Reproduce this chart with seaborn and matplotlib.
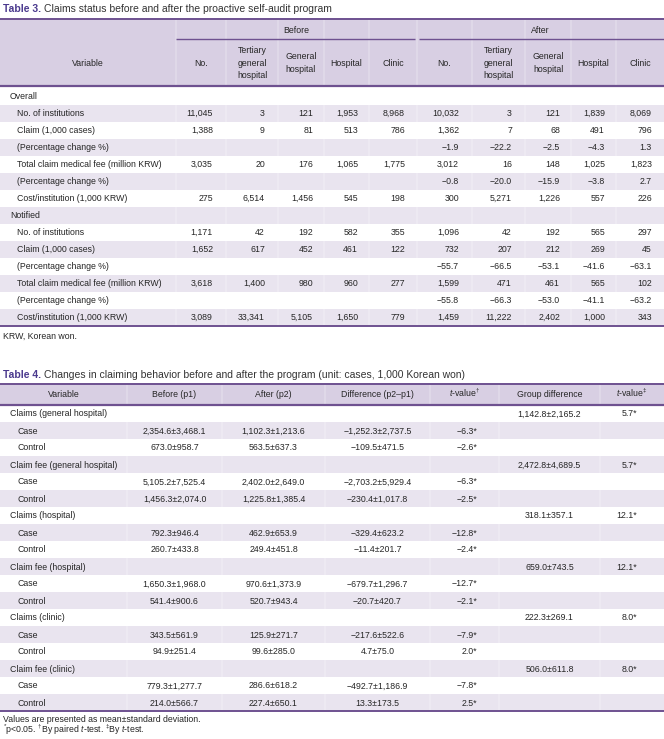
import seaborn as sns
import matplotlib.pyplot as plt

# ---- Table 3 data ----
t3_title = "Claims status before and after the proactive self-audit program"
t3_groups = ["Before", "After"]
t3_cols = ["No.", "Tertiary\ngeneral\nhospital", "General\nhospital", "Hospital", "Clinic"]
t3_labels = [
    "Overall",
    "No. of institutions",
    "Claim (1,000 cases)",
    "(Percentage change %)",
    "Total claim medical fee (million KRW)",
    "(Percentage change %)",
    "Cost/institution (1,000 KRW)",
    "Notified",
    "No. of institutions",
    "Claim (1,000 cases)",
    "(Percentage change %)",
    "Total claim medical fee (million KRW)",
    "(Percentage change %)",
    "Cost/institution (1,000 KRW)",
]
t3_is_heading = [True, False, False, False, False, False, False,
                 True, False, False, False, False, False, False]
t3_before = [
    [],
    ["11,045", "3", "121", "1,953", "8,968"],
    ["1,388", "9", "81", "513", "786"],
    [],
    ["3,035", "20", "176", "1,065", "1,775"],
    [],
    ["275", "6,514", "1,456", "545", "198"],
    [],
    ["1,171", "42", "192", "582", "355"],
    ["1,652", "617", "452", "461", "122"],
    [],
    ["3,618", "1,400", "980", "960", "277"],
    [],
    ["3,089", "33,341", "5,105", "1,650", "779"],
]
t3_after = [
    [],
    ["10,032", "3", "121", "1,839", "8,069"],
    ["1,362", "7", "68", "491", "796"],
    ["\u22121.9", "\u221222.2", "\u22122.5", "\u22124.3", "1.3"],
    ["3,012", "16", "148", "1,025", "1,823"],
    ["\u22120.8", "\u221220.0", "\u221215.9", "\u22123.8", "2.7"],
    ["300", "5,271", "1,226", "557", "226"],
    [],
    ["1,096", "42", "192", "565", "297"],
    ["732", "207", "212", "269", "45"],
    ["\u221255.7", "\u221266.5", "\u221253.1", "\u221241.6", "\u221263.1"],
    ["1,599", "471", "461", "565", "102"],
    ["\u221255.8", "\u221266.3", "\u221253.0", "\u221241.1", "\u221263.2"],
    ["1,459", "11,222", "2,402", "1,000", "343"],
]
t3_note = "KRW, Korean won."

# ---- Table 4 data ----
t4_title = "Changes in claiming behavior before and after the program (unit: cases, 1,000 Korean won)"
t4_cols = ["Variable", "Before (p1)", "After (p2)", "Difference (p2\u2013p1)",
           "$t$-value$^{\u2020}$", "Group difference", "$t$-value$^{\u2021}$"]
t4_labels = [
    "Claims (general hospital)", "Case", "Control",
    "Claim fee (general hospital)", "Case", "Control",
    "Claims (hospital)", "Case", "Control",
    "Claim fee (hospital)", "Case", "Control",
    "Claims (clinic)", "Case", "Control",
    "Claim fee (clinic)", "Case", "Control",
]
t4_before = ["", "2,354.6\u00b13,468.1", "673.0\u00b1958.7",
             "", "5,105.2\u00b17,525.4", "1,456.3\u00b12,074.0",
             "", "792.3\u00b1946.4", "260.7\u00b1433.8",
             "", "1,650.3\u00b11,968.0", "541.4\u00b1900.6",
             "", "343.5\u00b1561.9", "94.9\u00b1251.4",
             "", "779.3\u00b11,277.7", "214.0\u00b1566.7"]
t4_after = ["", "1,102.3\u00b11,213.6", "563.5\u00b1637.3",
            "", "2,402.0\u00b12,649.0", "1,225.8\u00b11,385.4",
            "", "462.9\u00b1653.9", "249.4\u00b1451.8",
            "", "970.6\u00b11,373.9", "520.7\u00b1943.4",
            "", "125.9\u00b1271.7", "99.6\u00b1285.0",
            "", "286.6\u00b1618.2", "227.4\u00b1650.1"]
t4_diff = ["", "\u22121,252.3\u00b12,737.5", "\u2212109.5\u00b1471.5",
           "", "\u22122,703.2\u00b15,929.4", "\u2212230.4\u00b11,017.8",
           "", "\u2212329.4\u00b1623.2", "\u221211.4\u00b1201.7",
           "", "\u2212679.7\u00b11,296.7", "\u221220.7\u00b1420.7",
           "", "\u2212217.6\u00b1522.6", "4.7\u00b175.0",
           "", "\u2212492.7\u00b11,186.9", "13.3\u00b1173.5"]
t4_tpaired = ["", "\u22126.3*", "\u22122.6*", "", "\u22126.3*", "\u22122.5*",
              "", "\u221212.8*", "\u22122.4*", "", "\u221212.7*", "\u22122.1*",
              "", "\u22127.9*", "2.0*", "", "\u22127.8*", "2.5*"]
t4_groupdiff = ["1,142.8\u00b12,165.2", "", "", "2,472.8\u00b14,689.5", "", "",
                "318.1\u00b1357.1", "", "", "659.0\u00b1743.5", "", "",
                "222.3\u00b1269.1", "", "", "506.0\u00b1611.8", "", ""]
t4_tgroup = ["5.7*", "", "", "5.7*", "", "", "12.1*", "", "",
             "12.1*", "", "", "8.0*", "", "", "8.0*", "", ""]
t4_notes = ["Values are presented as mean\u00b1standard deviation.",
            "$^{*}$p<0.05. $^{\u2020}$By paired $t$-test. $^{\u2021}$By $t$-test."]

# ---- style ----
sns.set_theme(style="white")
plt.rcParams["font.family"] = ["Liberation Sans", "DejaVu Sans"]
plt.rcParams["mathtext.fontset"] = "custom"
plt.rcParams["mathtext.rm"] = "Liberation Sans"
plt.rcParams["mathtext.it"] = "Liberation Sans:italic"

txt = "#262626"
purple = "#4b3a8e"
line_c = "#6e5190"
head_bg = "#d8cfe3"
band_bg = "#e9e4ef"
fs = 6.3
title_fs = 7.45
rh = 17.0
base_off = 3.0  # baseline sits this far below the visual row centre

fig = plt.figure(figsize=(6.64, 7.39), dpi=100)
ax = fig.add_axes([0, 0, 1, 1])
ax.set_xlim(0, 664)
ax.set_ylim(739, 0)
ax.axis("off")


def cell(x, y, s, ha="left"):
    ax.text(x, y + base_off, s, fontsize=fs, color=txt, ha=ha, va="baseline")


def multiline(x, yc, s, step=12.5):
    parts = s.split("\n")
    for k, p in enumerate(parts):
        cell(x, yc + (k - (len(parts) - 1) / 2) * step, p, ha="center")


def title(y, num, s):
    t = ax.text(3, y + 3.5, f"Table {num}.", fontsize=title_fs, fontweight="bold",
                color=purple, va="baseline")
    fig.canvas.draw()
    inv = ax.transData.inverted()
    x2 = inv.transform((t.get_window_extent().x1, 0))[0] + 2.5
    ax.text(x2, y + 3.5, s, fontsize=title_fs, color="#333333", va="baseline")


def hline(y, x0=0, x1=664, lw=1.3):
    ax.plot([x0, x1], [y, y], color=line_c, lw=lw, solid_capstyle="butt")


def vseps(bounds, y0, y1):
    for b in bounds:
        ax.plot([b, b], [y0, y1], color="white", lw=0.35, alpha=0.8)


# ================= Table 3 =================
title(9, 3, t3_title)
t3_top, t3_head_bot = 19, 86
t3_bounds = [0, 176, 226, 278, 324, 369, 417, 472, 525, 571, 616, 664]
t3_pad = [13, 13, 11, 11, 12]

ax.fill_between([0, 664], t3_top, t3_head_bot, color=head_bg, lw=0)
row0 = t3_head_bot + 1.5
for i, lab in enumerate(t3_labels):
    yc = row0 + (i + 0.5) * rh
    if i % 2 == 1:
        ax.fill_between([0, 664], yc - rh / 2, yc + rh / 2, color=band_bg, lw=0)
    cell(10 if t3_is_heading[i] else 17, yc, lab)
    for g, vals in enumerate([t3_before[i], t3_after[i]]):
        for j, v in enumerate(vals):
            right = t3_bounds[1 + g * 5 + j + 1] - t3_pad[j]
            cell(right, yc, v, ha="right")
t3_bot = row0 + len(t3_labels) * rh
vseps(t3_bounds[1:-1], t3_top, t3_bot)

cell(88, 62.5, "Variable", ha="center")
for g, name in enumerate(t3_groups):
    x0, x1 = t3_bounds[1 + g * 5], t3_bounds[6 + g * 5]
    cell((x0 + x1) / 2, 30, name, ha="center")
    hline(39, x0 + (2 if g else 0), x1 - (2 if g == 0 else 0), lw=1.0)
    for j, c in enumerate(t3_cols):
        cx = (t3_bounds[1 + g * 5 + j] + t3_bounds[2 + g * 5 + j]) / 2
        multiline(cx, 62.5, c)
hline(t3_top, lw=1.4)
hline(t3_head_bot, lw=1.6)
hline(t3_bot, lw=1.4)
cell(3, t3_bot + 10, t3_note)

# ================= Table 4 =================
title(375, 4, t4_title)
t4_top, t4_head_bot = 384, 405
t4_bounds = [0, 127, 222, 325, 430, 499, 600, 664]
ax.fill_between([0, 664], t4_top, t4_head_bot, color=head_bg, lw=0)
for j, c in enumerate(t4_cols):
    cx = (t4_bounds[j] + t4_bounds[j + 1]) / 2
    cell(cx, (t4_top + t4_head_bot) / 2 - 0.5, c, ha="center")

row0 = t4_head_bot
cols = [t4_before, t4_after, t4_diff, t4_tpaired, t4_groupdiff, t4_tgroup]
t_right = {3: 477, 5: 637}
for i, lab in enumerate(t4_labels):
    yc = row0 + (i + 0.5) * rh
    if i % 2 == 1:
        ax.fill_between([0, 664], yc - rh / 2, yc + rh / 2, color=band_bg, lw=0)
    heading = i % 3 == 0
    cell(10 if heading else 17, yc, lab)
    for j, col in enumerate(cols):
        v = col[i]
        if not v:
            continue
        if j in t_right:
            cell(t_right[j], yc, v, ha="right")
        else:
            cell((t4_bounds[j + 1] + t4_bounds[j + 2]) / 2, yc, v, ha="center")
t4_bot = row0 + len(t4_labels) * rh
vseps(t4_bounds[1:-1], t4_top, t4_bot)
hline(t4_top, lw=1.4)
hline(t4_head_bot, lw=1.6)
hline(t4_bot, lw=1.4)
for k, note in enumerate(t4_notes):
    cell(3, t4_bot + 7.5 + k * 11.5, note)

fig.savefig("out.png", dpi=100)
